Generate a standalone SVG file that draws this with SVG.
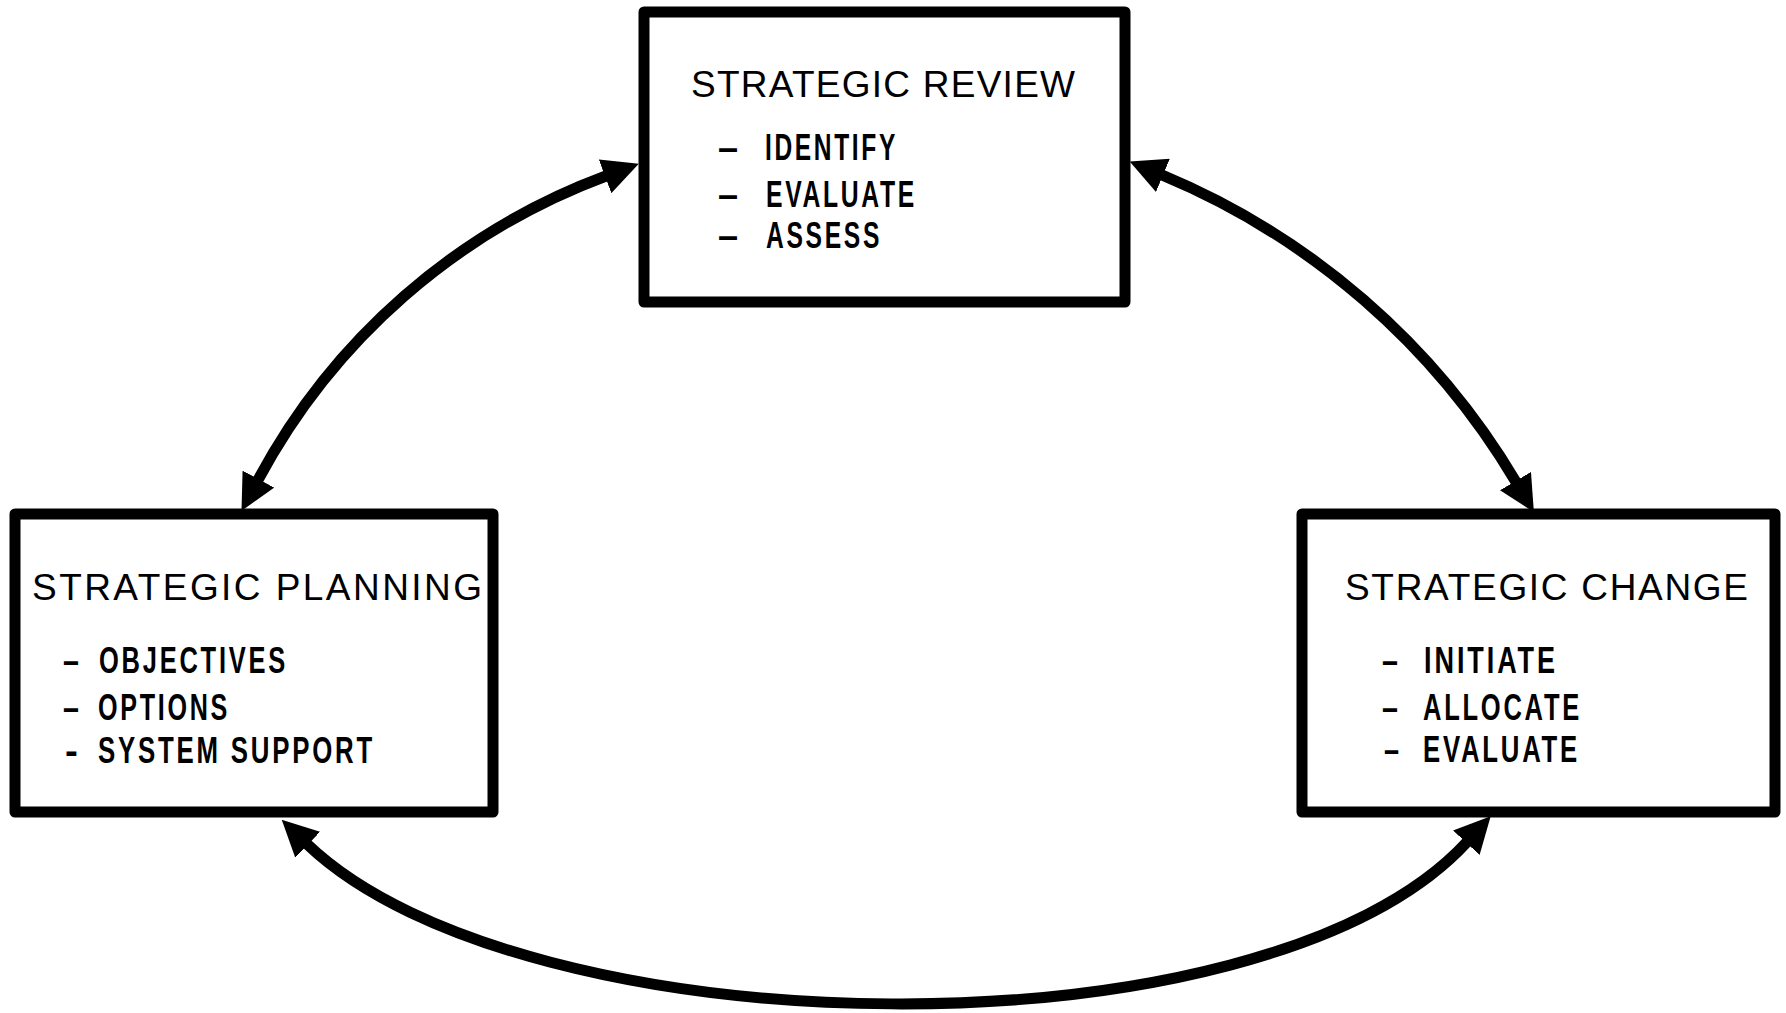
<svg xmlns="http://www.w3.org/2000/svg" width="1786" height="1013" viewBox="0 0 1786 1013">
<style>
.box{fill:#fff;stroke:#000;stroke-width:11;stroke-linejoin:round}
.title{font-family:"Liberation Sans",Arial,sans-serif;font-size:37px;fill:#000}
.item{font-family:"Liberation Sans",Arial,sans-serif;font-weight:bold;font-size:37px;letter-spacing:4px;fill:#000}
.arc{fill:none;stroke:#000;stroke-width:11}
</style>
<defs>
<marker id="ah" markerUnits="userSpaceOnUse" viewBox="0 0 36 36" refX="1" refY="18" markerWidth="36" markerHeight="36" orient="auto-start-reverse">
<path d="M0,0 L36,18 L0,36 Z" fill="#000"/>
</marker>
</defs>
<rect width="1786" height="1013" fill="#fff"/>
<g id="connectors">
<path class="arc" d="M258,480 A652,652 0 0 1 606,176" marker-start="url(#ah)" marker-end="url(#ah)"/>
<path class="arc" d="M1162,175 A745,745 0 0 1 1516,482" marker-start="url(#ah)" marker-end="url(#ah)"/>
<path class="arc" d="M307,844 C523,1051 1263,1064 1467,842" marker-start="url(#ah)" marker-end="url(#ah)"/>
</g>
<g id="strategic-review">
<rect class="box" x="644" y="12" width="481" height="290"/>
<text class="title" x="691" y="97" textLength="384" lengthAdjust="spacing">STRATEGIC REVIEW</text>
<text class="item" y="160"><tspan x="718" textLength="24" lengthAdjust="spacingAndGlyphs">–</tspan><tspan x="765" textLength="133" lengthAdjust="spacingAndGlyphs">IDENTIFY</tspan></text>
<text class="item" y="207"><tspan x="718" textLength="24" lengthAdjust="spacingAndGlyphs">–</tspan><tspan x="766" textLength="151" lengthAdjust="spacingAndGlyphs">EVALUATE</tspan></text>
<text class="item" y="248"><tspan x="718" textLength="24" lengthAdjust="spacingAndGlyphs">–</tspan><tspan x="766" textLength="116" lengthAdjust="spacingAndGlyphs">ASSESS</tspan></text>
</g>
<g id="strategic-planning">
<rect class="box" x="15" y="514" width="478" height="298"/>
<text class="title" x="32" y="600" textLength="450" lengthAdjust="spacing">STRATEGIC PLANNING</text>
<text class="item" y="673"><tspan x="63" textLength="19" lengthAdjust="spacingAndGlyphs">–</tspan><tspan x="99" textLength="189" lengthAdjust="spacingAndGlyphs">OBJECTIVES</tspan></text>
<text class="item" y="720"><tspan x="63" textLength="19" lengthAdjust="spacingAndGlyphs">–</tspan><tspan x="98" textLength="132" lengthAdjust="spacingAndGlyphs">OPTIONS</tspan></text>
<text class="item" y="763"><tspan x="65" textLength="17" lengthAdjust="spacingAndGlyphs">-</tspan><tspan x="98" textLength="277" lengthAdjust="spacingAndGlyphs">SYSTEM SUPPORT</tspan></text>
</g>
<g id="strategic-change">
<rect class="box" x="1302" y="514" width="473" height="298"/>
<text class="title" x="1345" y="600" textLength="403" lengthAdjust="spacing">STRATEGIC CHANGE</text>
<text class="item" y="673"><tspan x="1382" textLength="19" lengthAdjust="spacingAndGlyphs">–</tspan><tspan x="1424" textLength="134" lengthAdjust="spacingAndGlyphs">INITIATE</tspan></text>
<text class="item" y="720"><tspan x="1382" textLength="19" lengthAdjust="spacingAndGlyphs">–</tspan><tspan x="1423" textLength="159" lengthAdjust="spacingAndGlyphs">ALLOCATE</tspan></text>
<text class="item" y="762"><tspan x="1384" textLength="18" lengthAdjust="spacingAndGlyphs">–</tspan><tspan x="1423" textLength="157" lengthAdjust="spacingAndGlyphs">EVALUATE</tspan></text>
</g>
</svg>
